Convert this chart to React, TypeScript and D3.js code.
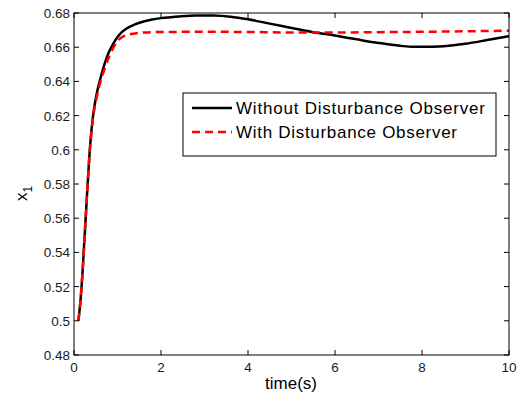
import React from "react";
import * as d3 from "d3";

const tWithout = [0.1, 0.15, 0.2, 0.25, 0.3, 0.35, 0.4, 0.45, 0.5, 0.55, 0.6, 0.7, 0.8, 0.9, 1.0, 1.1, 1.2, 1.4, 1.6, 1.8, 2.0, 2.4, 2.8, 3.2, 3.6, 4.0, 4.5, 5.0, 5.5, 6.0, 6.5, 7.0, 7.5, 7.8, 8.0, 8.5, 9.0, 9.5, 10.0];
const vWithout = [0.5, 0.512, 0.53, 0.552, 0.574, 0.595, 0.611, 0.622, 0.63, 0.636, 0.641, 0.65, 0.657, 0.662, 0.666, 0.6688, 0.6708, 0.6733, 0.675, 0.6762, 0.677, 0.678, 0.6786, 0.6785, 0.6778, 0.6763, 0.6738, 0.6712, 0.6688, 0.6668, 0.6646, 0.6625, 0.6608, 0.6602, 0.6602, 0.6606, 0.662, 0.6642, 0.6665];

const tWith = [0.1, 0.15, 0.2, 0.25, 0.3, 0.35, 0.4, 0.45, 0.5, 0.55, 0.6, 0.7, 0.8, 0.9, 1.0, 1.1, 1.2, 1.4, 1.6, 2.0, 3.0, 4.0, 5.0, 6.0, 7.0, 8.0, 9.0, 10.0];
const vWith = [0.5, 0.512, 0.53, 0.552, 0.574, 0.595, 0.61, 0.621, 0.628, 0.634, 0.639, 0.647, 0.654, 0.6595, 0.6635, 0.6658, 0.667, 0.668, 0.6686, 0.6689, 0.669, 0.6689, 0.6686, 0.6686, 0.6688, 0.669, 0.6693, 0.6696];

const xTicks = [0, 2, 4, 6, 8, 10];
const yTicks = [0.48, 0.5, 0.52, 0.54, 0.56, 0.58, 0.6, 0.62, 0.64, 0.66, 0.68];
const seriesNames = ["Without Disturbance Observer", "With Disturbance Observer"];

const W = 522, H = 399;
const left = 74, right = 509, top = 13, bottom = 355;
const FONT = "'Liberation Sans', Arial, sans-serif";

export default function App() {
  const x = d3.scaleLinear().domain([0, 10]).range([left, right]);
  const y = d3.scaleLinear().domain([0.48, 0.68]).range([bottom, top]);
  const line = d3.line<[number, number]>().x(d => x(d[0])).y(d => y(d[1])).curve(d3.curveMonotoneX);
  const blackPts = tWithout.map((t, i) => [t, vWithout[i]] as [number, number]);
  const redPts = tWith.map((t, i) => [t, vWith[i]] as [number, number]);
  const tl = 5;
  const lgX = 183, lgY = 93, lgW = 313, lgH = 63;
  return (
    <svg width={W} height={H} style={{ position: "absolute", left: 0, top: 0, background: "#fff" }} fontFamily={FONT}>
      <rect x={0} y={0} width={W} height={H} fill="#fff" />
      <defs>
        <clipPath id="plot"><rect x={left} y={top} width={right - left} height={bottom - top} /></clipPath>
      </defs>
      <g clipPath="url(#plot)">
        <path d={line(blackPts) || ""} fill="none" stroke="#000" strokeWidth={2.5} />
        <path d={line(redPts) || ""} fill="none" stroke="#ff0000" strokeWidth={2.5} strokeDasharray="8,5" />
      </g>
      <rect x={left} y={top} width={right - left} height={bottom - top} fill="none" stroke="#000" strokeWidth={1} />
      {xTicks.map(t => (
        <g key={"x" + t}>
          <line x1={x(t)} x2={x(t)} y1={bottom} y2={bottom - tl} stroke="#000" />
          <line x1={x(t)} x2={x(t)} y1={top} y2={top + tl} stroke="#000" />
          <text x={x(t)} y={372} fontSize={13.5} textAnchor="middle" fill="#1a1a1a">{String(t)}</text>
        </g>
      ))}
      {yTicks.map(v => (
        <g key={"y" + v}>
          <line x1={left} x2={left + tl} y1={y(v)} y2={y(v)} stroke="#000" />
          <line x1={right} x2={right - tl} y1={y(v)} y2={y(v)} stroke="#000" />
          <text x={70} y={y(v) + 5} fontSize={13.5} textAnchor="end" fill="#1a1a1a">{String(+v.toFixed(2))}</text>
        </g>
      ))}
      <text x={291} y={389} fontSize={17} textAnchor="middle" fill="#000">time(s)</text>
      <text transform={`translate(27,${201}) rotate(-90)`} fontSize={17} fill="#000">
        x<tspan fontSize={12} dy={5}>1</tspan>
      </text>
      <rect x={lgX} y={lgY} width={lgW} height={lgH} fill="#fff" stroke="#000" strokeWidth={1} />
      <line x1={192} x2={232} y1={108} y2={108} stroke="#000" strokeWidth={2.5} />
      <line x1={192} x2={232} y1={132} y2={132} stroke="#ff0000" strokeWidth={2.5} strokeDasharray="8,5" />
      <text x={236} y={114} fontSize={17} textLength={249} fill="#000">{seriesNames[0]}</text>
      <text x={236} y={138} fontSize={17} textLength={221} fill="#000">{seriesNames[1]}</text>
    </svg>
  );
}
